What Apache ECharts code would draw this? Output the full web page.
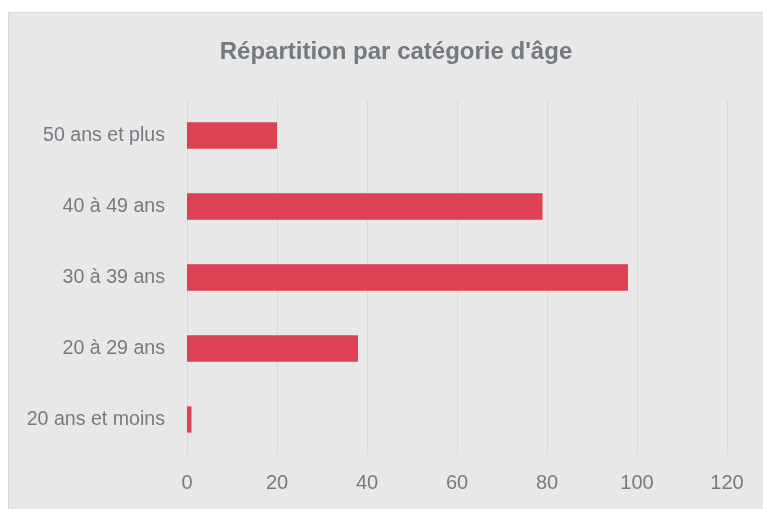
<!DOCTYPE html>
<html>
<head>
<meta charset="utf-8">
<script src="https://cdn.jsdelivr.net/npm/echarts@6/dist/echarts.min.js"></script>
<style>
html,body{margin:0;padding:0;background:#fff;}
#c{width:763px;height:509px;}
</style>
</head>
<body>
<div id="c"></div>
<script>
const titleText = "Répartition par catégorie d'âge";
const categories = ["20 ans et moins", "20 à 29 ans", "30 à 39 ans", "40 à 49 ans", "50 ans et plus"];
const values = [1, 38, 98, 79, 20];
const xMin = 0, xMax = 120, xStep = 20;

const FONT = "'Liberation Sans', Arial, sans-serif";
const chart = echarts.init(document.getElementById('c'), null, {renderer: 'canvas'});
chart.setOption({
  backgroundColor: '#ffffff',
  animation: false,
  graphic: [{
    type: 'rect', z: -10, silent: true,
    shape: {x: 8.5, y: 12.5, width: 770, height: 520},
    style: {fill: '#e8e8e8', stroke: '#d9d9d9', lineWidth: 1}
  }],
  title: {
    text: titleText,
    left: 391, top: 35, textAlign: 'center',
    textStyle: {fontFamily: FONT, fontWeight: 'bold', fontSize: 24, color: '#73797e'}
  },
  grid: {left: 187, right: 36, top: 100, bottom: 54, containLabel: false},
  xAxis: {
    type: 'value', min: xMin, max: xMax, interval: xStep,
    axisLine: {show: false}, axisTick: {show: false},
    axisLabel: {margin: 18, fontFamily: FONT, fontSize: 20, color: '#757b80'},
    splitLine: {show: true, lineStyle: {color: '#dadada', width: 1}}
  },
  yAxis: {
    type: 'category', data: categories,
    axisLine: {show: true, lineStyle: {color: '#dadada', width: 1}},
    axisTick: {show: false},
    axisLabel: {margin: 22, fontFamily: FONT, fontSize: 19.6, color: '#757b80'}
  },
  series: [{
    type: 'bar', data: values, barWidth: '37%',
    itemStyle: {color: '#dd4153'}
  }]
});
</script>
</body>
</html>
